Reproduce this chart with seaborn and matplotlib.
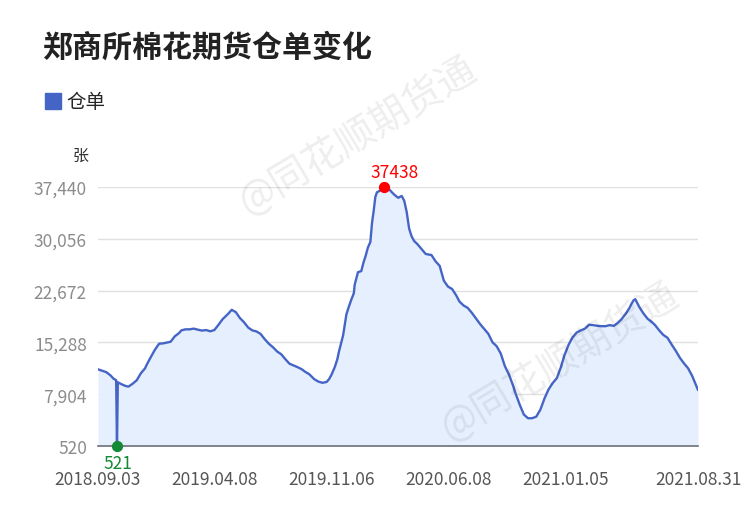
import numpy as np
import pandas as pd
import matplotlib
matplotlib.use("Agg")
import matplotlib.pyplot as plt
from matplotlib.lines import Line2D
import seaborn as sns

# ---------------- data ----------------
TITLE = "郑商所棉花期货仓单变化"
SERIES_NAME = "仓单"
UNIT = "张"

# exchange holidays (weekdays with no trading) used to build the trading-day axis
HOLIDAYS = ['2018-09-24', '2018-10-01', '2018-10-02', '2018-10-03', '2018-10-04', '2018-10-05',
            '2018-12-31', '2019-01-01', '2019-02-04', '2019-02-05', '2019-02-06', '2019-02-07',
            '2019-02-08', '2019-04-05', '2019-05-01', '2019-05-02', '2019-05-03', '2019-06-07',
            '2019-09-13', '2019-10-01', '2019-10-02', '2019-10-03', '2019-10-04', '2019-10-07',
            '2020-01-01', '2020-01-24', '2020-01-27', '2020-01-28', '2020-01-29', '2020-01-30',
            '2020-01-31', '2020-04-06', '2020-05-01', '2020-05-04', '2020-05-05', '2020-06-25',
            '2020-06-26', '2020-10-01', '2020-10-02', '2020-10-05', '2020-10-06', '2020-10-07',
            '2020-10-08', '2021-01-01', '2021-02-11', '2021-02-12', '2021-02-15', '2021-02-16',
            '2021-02-17', '2021-04-05', '2021-05-03', '2021-05-04', '2021-05-05', '2021-06-14']

dates = [
    '2018-09-03', '2018-09-10', '2018-09-17', '2018-09-25', '2018-10-08', '2018-10-11',
    '2018-10-12', '2018-10-15', '2018-10-22', '2018-10-29', '2018-11-01', '2018-11-08',
    '2018-11-15', '2018-11-22', '2018-11-29', '2018-12-03', '2018-12-10', '2018-12-17',
    '2018-12-24', '2018-12-28',
    '2019-01-02', '2019-01-08', '2019-01-15', '2019-01-22', '2019-01-29', '2019-02-01',
    '2019-02-15', '2019-02-22', '2019-03-01', '2019-03-08', '2019-03-15', '2019-03-22',
    '2019-03-29', '2019-04-08', '2019-04-15', '2019-04-22', '2019-04-29', '2019-05-06',
    '2019-05-10', '2019-05-17', '2019-05-24', '2019-05-31', '2019-06-10', '2019-06-17',
    '2019-06-24', '2019-07-01', '2019-07-08', '2019-07-15', '2019-07-22', '2019-07-29',
    '2019-08-05', '2019-08-12', '2019-08-19', '2019-08-26', '2019-09-02', '2019-09-09',
    '2019-09-16', '2019-09-23', '2019-09-30', '2019-10-08', '2019-10-15', '2019-10-22',
    '2019-10-29', '2019-11-01', '2019-11-06', '2019-11-12', '2019-11-15', '2019-11-19',
    '2019-11-22', '2019-11-26', '2019-11-29', '2019-12-02', '2019-12-05', '2019-12-10',
    '2019-12-13', '2019-12-16', '2019-12-20', '2019-12-26', '2019-12-31',
    '2020-01-03', '2020-01-08', '2020-01-13', '2020-01-15', '2020-01-17', '2020-01-21',
    '2020-01-23', '2020-02-03', '2020-02-07', '2020-02-12', '2020-02-13', '2020-02-18',
    '2020-02-21', '2020-02-26', '2020-03-02', '2020-03-05', '2020-03-09', '2020-03-11',
    '2020-03-13', '2020-03-18', '2020-03-23', '2020-03-26', '2020-03-31', '2020-04-03',
    '2020-04-10', '2020-04-17', '2020-04-24', '2020-04-30', '2020-05-08', '2020-05-15',
    '2020-05-22', '2020-05-29', '2020-06-05', '2020-06-12', '2020-06-19', '2020-06-29',
    '2020-07-06', '2020-07-13', '2020-07-20', '2020-07-27', '2020-08-03', '2020-08-10',
    '2020-08-17', '2020-08-24', '2020-08-31', '2020-09-07', '2020-09-14', '2020-09-21',
    '2020-09-28', '2020-10-09', '2020-10-16', '2020-10-23', '2020-10-30', '2020-11-06',
    '2020-11-13', '2020-11-20', '2020-11-27', '2020-12-04', '2020-12-11', '2020-12-18',
    '2020-12-25', '2020-12-31',
    '2021-01-08', '2021-01-15', '2021-01-22', '2021-01-29', '2021-02-05', '2021-02-19',
    '2021-02-26', '2021-03-05', '2021-03-12', '2021-03-19', '2021-03-26', '2021-04-02',
    '2021-04-09', '2021-04-16', '2021-04-23', '2021-04-30', '2021-05-07', '2021-05-12',
    '2021-05-14', '2021-05-21', '2021-05-28', '2021-06-04', '2021-06-11', '2021-06-18',
    '2021-06-25', '2021-07-02', '2021-07-09', '2021-07-16', '2021-07-23', '2021-07-30',
    '2021-08-06', '2021-08-13', '2021-08-20', '2021-08-27', '2021-08-31',
]

values = [
    11450, 11250, 11050, 10600, 10100, 9900,
    521, 9600, 9300, 9050, 8990, 9400,
    9900, 10900, 11590, 12100, 13200, 14250,
    15100, 15150,
    15150, 15250, 15380, 16150, 16600, 17000,
    17150, 17150, 17250, 17100, 16970, 17050,
    16870, 17050, 17800, 18600, 19170, 19400,
    19930, 19600, 18750, 18150, 17400, 17000,
    16850, 16500, 15750, 15100, 14600, 14000,
    13600, 12900, 12250, 12000, 11750, 11450,
    11100, 10750, 10150, 10050, 9700, 9530,
    9650, 10050, 10700, 11800, 12900, 14000,
    15400, 16300, 18500, 19300, 20400, 21400,
    22300, 23500, 25300, 25450, 26800,
    27500, 28800, 29600, 32300, 34000, 36000,
    36700, 36750, 37000, 37350, 37438, 37250,
    37080, 36700, 36350, 36050, 35900, 36050,
    36150, 35500, 33900, 31500, 30400, 29750,
    29300, 28600, 27900, 27800, 27750, 26850,
    26200, 24100, 23250, 22900, 22000, 21100,
    20550, 20200, 19500, 18700, 17900, 17200,
    16500, 15300, 14750, 13700, 11900, 10700,
    9100, 8000, 6400, 5000, 4480, 4480,
    4700, 5700, 7300, 8600, 9500, 10200,
    11800, 13400,
    14900, 16000, 16700, 17000, 17250, 17800,
    17750, 17650, 17600, 17600, 17750, 17650,
    18000, 18550, 19300, 20200, 20700, 21300,
    21450, 20300, 19400, 18650, 18200, 17750,
    17000, 16350, 15950, 15000, 14100, 13100,
    12300, 11600, 10500, 9100, 8500,
]

x_tick_dates = ['2018-09-03', '2019-04-08', '2019-11-06', '2020-06-08', '2021-01-05', '2021-08-31']
y_ticks = [520, 7904, 15288, 22672, 30056, 37440]

# ---------------- style ----------------
sns.set_theme(style="white")
plt.rcParams['font.family'] = ['Noto Sans CJK SC', 'DejaVu Sans']
plt.rcParams['axes.unicode_minus'] = False

LINE = "#4565c6"
FILL = "#e6effd"

calendar = pd.bdate_range(dates[0], dates[-1], freq='C', holidays=HOLIDAYS)
pos = calendar.searchsorted(pd.to_datetime(dates))
tick_pos = calendar.searchsorted(pd.to_datetime(x_tick_dates))
df = pd.DataFrame({"pos": pos, "value": values})

fig = plt.figure(figsize=(7.5, 5.1), dpi=100)
ax = fig.add_axes([98 / 750, 1 - 447 / 510, 600 / 750, 259 / 510])

ax.fill_between(df["pos"], y_ticks[0], df["value"], color=FILL, lw=0, zorder=1)
sns.lineplot(data=df, x="pos", y="value", ax=ax, color=LINE, lw=1.7, zorder=3,
             estimator=None, sort=False)

ax.set_xlim(0, len(calendar) - 1)
ax.set_ylim(y_ticks[0], y_ticks[-1])
ax.set_yticks(y_ticks)
ax.set_yticklabels([f"{v:,}" for v in y_ticks])
ax.set_xticks(tick_pos)
ax.set_xticklabels([d.replace('-', '.') for d in x_tick_dates])
ax.set_xlabel("")
ax.set_ylabel("")

ax.grid(axis='y', color='#e0e0e0', lw=1, zorder=0)
ax.grid(axis='x', visible=False)
for s in ['top', 'right', 'left']:
    ax.spines[s].set_visible(False)
ax.spines['bottom'].set_color('#6e7079')
ax.spines['bottom'].set_linewidth(1.2)
ax.spines['bottom'].set_zorder(4)

ax.tick_params(axis='y', length=0, pad=8, labelsize=12.5, labelcolor='#8c8c8c')
ax.tick_params(axis='x', length=5, width=1, color='#6e7079', pad=12.5,
               labelsize=12.5, labelcolor='#555555', direction='out')

# max / min markers
vals = np.array(values)
imax, imin = int(vals.argmax()), int(vals.argmin())
ax.scatter([pos[imax]], [vals[imax]], s=50, color='#ff0000', zorder=5, clip_on=False)
ax.annotate(f"{vals[imax]}", (pos[imax], vals[imax]), xytext=(7.5, 11),
            textcoords='offset points', ha='center', va='center',
            color='#ff0000', fontsize=12.5, annotation_clip=False)
ax.scatter([pos[imin]], [vals[imin]], s=50, color='#138a36', zorder=5, clip_on=False)
ax.annotate(f"{vals[imin]}", (pos[imin], vals[imin]), xytext=(0.5, -12),
            textcoords='offset points', ha='center', va='center',
            color='#138a36', fontsize=12.5, annotation_clip=False)

# unit label
fig.text(81 / 750, 1 - 156 / 510, UNIT, ha='center', va='center', fontsize=11.5, color='#333333')

# title
fig.text(42 / 750, 1 - 48 / 510, TITLE, ha='left', va='center', fontsize=21.6,
         fontweight='bold', color='#222222')

# legend
handle = Line2D([], [], marker='s', color=LINE, ls='none', markersize=11)
fig.legend([handle], [SERIES_NAME], loc='center left',
           bbox_to_anchor=(35 / 750, 1 - 103 / 510), frameon=False,
           handlelength=1.0, handletextpad=0.2, fontsize=14, borderaxespad=0)

# watermarks
for (wx, wy) in [(358, 136), (560, 362)]:
    fig.text(wx / 750, 1 - wy / 510, "@同花顺期货通", rotation=31, ha='center', va='center',
             fontsize=28, color='#000000', alpha=0.07, zorder=10)

fig.savefig("out.png", dpi=100)
